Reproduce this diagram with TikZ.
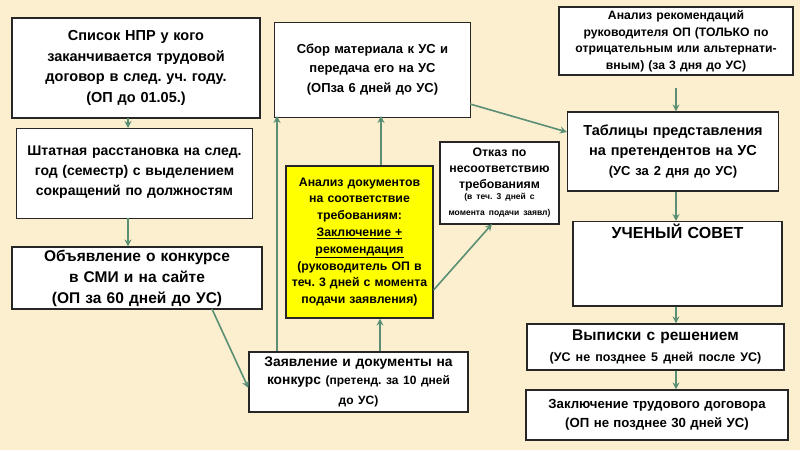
\documentclass[tikz,border=0pt]{standalone}
\usepackage{fontspec}
\setmainfont{Liberation Sans}
\usetikzlibrary{arrows.meta}
\definecolor{bg}{HTML}{FBEFCF}
\definecolor{arr}{HTML}{5B8F74}
\definecolor{ylw}{HTML}{FFFF00}
\begin{document}
\frenchspacing
\begin{tikzpicture}[x=1pt,y=-1pt,
  box/.style={draw=black!85,line width=1.2pt,fill=white,inner sep=2pt,align=center,font=\bfseries\fontsize{14.5}{20.5}\selectfont},
  conn/.style={draw=arr,line width=1.6pt,-{Stealth[length=7pt,width=7pt]}}]
\fill[bg] (0,0) rectangle (800,450);
\useasboundingbox (0,0) rectangle (800,450);
\node[box,minimum width=248pt,minimum height=100pt,text width=244pt] (a) at (136,68) {Список НПР у кого\\заканчивается трудовой\\договор в след. уч. году.\\(ОП до 01.05.)};
\node[box,minimum width=235pt,minimum height=90pt,text width=232pt,anchor=north,font=\bfseries\fontsize{14}{20}\selectfont] (b) at (134.5,128) {\\[-14pt]Штатная расстановка на след.\\год (семестр) с выделением\\сокращений по должностям};
\node[box,minimum width=250pt,minimum height=62pt,text width=246pt,font=\bfseries\fontsize{15.5}{21}\selectfont] (c) at (137,278) {Объявление о конкурсе\\в СМИ и на сайте\\(ОП за 60 дней до УС)};
\node[box,minimum width=195pt,minimum height=95pt,text width=192pt,anchor=north,font=\bfseries\fontsize{13}{19.5}\selectfont] (d) at (372.5,22) {\\[-12pt]Сбор материала к УС и\\передача его на УС\\(ОПза 6 дней до УС)};
\node[box,fill=ylw,minimum width=145pt,minimum height=152pt,text width=143pt,font=\bfseries\fontsize{12.3}{16.8}\selectfont] (e) at (359.5,242) {Анализ документов\\на соответствие\\требованиям:\\\underline{Заключение +}\\\underline{рекомендация}\\(руководитель ОП в\\теч. 3 дней с момента\\подачи заявления)};
\node[box,minimum width=117pt,minimum height=82pt,text width=115pt,font=\bfseries\fontsize{12.3}{16}\selectfont] (f) at (499.5,183) {Отказ по\\несоответствию\\требованиям\\{\fontsize{8.5}{11}\selectfont (в теч. 3 дней с\\момента подачи заявл)}};
\node[box,minimum width=217pt,minimum height=60pt,text width=215pt,font=\bfseries\fontsize{13.8}{20}\selectfont] (g) at (358.5,382) {Заявление и документы на\\конкурс {\fontsize{12}{18}\selectfont(претенд. за 10 дней\\до УС)}};
\node[box,minimum width=232pt,minimum height=68pt,text width=230pt,font=\bfseries\fontsize{12.2}{16.5}\selectfont] (h) at (676,41) {Анализ рекомендаций\\руководителя ОП (ТОЛЬКО по\\отрицательным или альтернати-\\вным) (за 3 дня до УС)};
\node[box,minimum width=210pt,minimum height=79pt,text width=207pt,font=\bfseries\fontsize{14.5}{20}\selectfont] (i) at (673,151.5) {Таблицы представления\\на претендентов на УС\\{\fontsize{13}{18}\selectfont(УС за 2 дня до УС)}};
\node[box,minimum width=209pt,minimum height=84pt,text width=205pt,anchor=north,font=\bfseries\fontsize{16}{18}\selectfont] (j) at (677.5,221) {УЧЕНЫЙ СОВЕТ\\[48pt]\mbox{}};
\node[box,minimum width=257pt,minimum height=46pt,text width=253pt,font=\bfseries\fontsize{15.5}{21}\selectfont] (k) at (655.5,347) {Выписки с решением\\{\fontsize{12.5}{17}\selectfont(УС не позднее 5 дней после УС)}};
\node[box,minimum width=262pt,minimum height=50pt,text width=258pt,font=\bfseries\fontsize{13.2}{19}\selectfont] (l) at (657,415) {Заключение трудового договора\\(ОП не позднее 30 дней УС)};
\draw[conn] (128,118) -- (128,128);
\draw[conn] (128,218) -- (c.north -| 128,0);
\draw[conn] (212,309) -- (g.west |- 0,388);
\draw[conn] (g.north -| 277,0) -- (277,116);
\draw[conn] (g.north -| 380,0) -- (e.south -| 380,0);
\draw[conn] (e.north -| 381,0) -- (381,116);
\draw[conn] (e.east |- 0,290) -- (492,224);
\draw[conn] (470,104) -- (i.west |- 0,132);
\draw[conn] (676,88) -- (i.north -| 676,0);
\draw[conn] (i.south -| 676,0) -- (j.north -| 676,0);
\draw[conn] (j.south -| 676,0) -- (k.north -| 676,0);
\draw[conn] (k.south -| 676,0) -- (l.north -| 676,0);
\end{tikzpicture}
\end{document}
